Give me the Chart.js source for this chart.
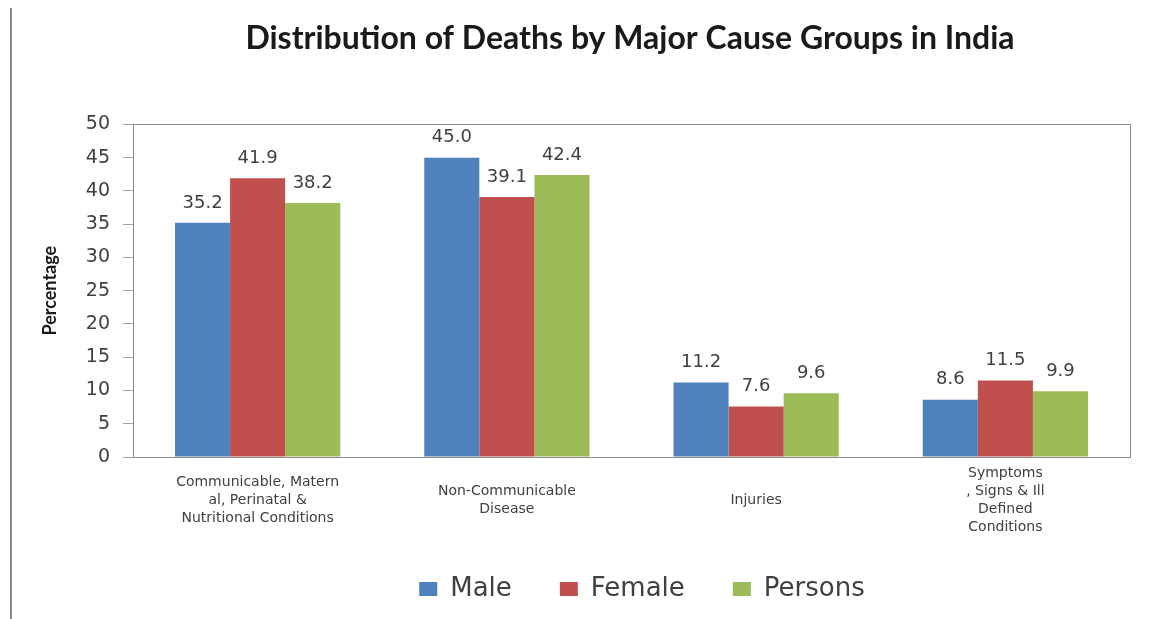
<!DOCTYPE html>
<html>
<head>
<meta charset="utf-8">
<script src="https://cdn.jsdelivr.net/npm/chart.js@4.4.1/dist/chart.umd.min.js"></script>
<style>
  html, body { margin: 0; padding: 0; background: #ffffff; }
  #wrap { width: 1160px; height: 619px; position: relative; }
</style>
</head>
<body>
<div id="wrap"><canvas id="c" width="1160" height="619"></canvas></div>
<script>
const categories = [
  ["Communicable, Matern", "al, Perinatal &", "Nutritional Conditions"],
  ["Non-Communicable", "Disease"],
  ["Injuries"],
  ["Symptoms", ", Signs & Ill", "Defined", "Conditions"]
];
const maleValues = [35.2, 45.0, 11.2, 8.6];
const femaleValues = [41.9, 39.1, 7.6, 11.5];
const personsValues = [38.2, 42.4, 9.6, 9.9];
const seriesNames = ["Male", "Female", "Persons"];
const chartTitle = "Distribution of Deaths by Major Cause Groups in India";
const yAxisTitle = "Percentage";

const valueLabels = {
  id: 'valueLabels',
  afterDatasetsDraw(chart) {
    const ctx = chart.ctx;
    ctx.save();
    ctx.font = '18px "DejaVu Sans"';
    ctx.fillStyle = '#404040';
    ctx.textAlign = 'center';
    ctx.textBaseline = 'middle';
    chart.data.datasets.forEach((ds, i) => {
      const meta = chart.getDatasetMeta(i);
      meta.data.forEach((bar, j) => {
        ctx.fillText(ds.data[j].toFixed(1), bar.x, bar.y - 20);
      });
    });
    ctx.restore();
  }
};

const frame = {
  id: 'frame',
  beforeDraw(chart) {
    const ctx = chart.ctx;
    ctx.save();
    ctx.fillStyle = '#ffffff';
    ctx.fillRect(0, 0, chart.width, chart.height);
    ctx.fillStyle = '#8a8a8a';
    ctx.fillRect(10, 8, 2, chart.height - 8);
    ctx.restore();
  },
  afterDraw(chart) {
    const a = chart.chartArea;
    const ctx = chart.ctx;
    ctx.save();
    ctx.strokeStyle = '#8c8c8c';
    ctx.lineWidth = 1;
    ctx.strokeRect(Math.round(a.left) + 0.5, Math.round(a.top) + 0.5, Math.round(a.right - a.left), Math.round(a.bottom - a.top));
    ctx.restore();
  },
  afterLayout(chart) {
    const lg = chart.legend;
    if (lg) { lg.left += 77; lg.right += 77; lg.top -= 11; lg.bottom -= 11; }
    const tb = chart.titleBlock;
    if (tb) { tb.left += 65; tb.right += 65; }
  }
};

new Chart(document.getElementById('c'), {
  type: 'bar',
  data: {
    labels: categories,
    datasets: [
      { label: seriesNames[0], data: maleValues, backgroundColor: '#4F81BD' },
      { label: seriesNames[1], data: femaleValues, backgroundColor: '#C0504D' },
      { label: seriesNames[2], data: personsValues, backgroundColor: '#9BBB59' }
    ]
  },
  options: {
    responsive: false,
    animation: false,
    devicePixelRatio: 1,
    layout: { padding: { left: 0, right: 30, top: 0, bottom: -4 } },
    datasets: { bar: { categoryPercentage: 0.663, barPercentage: 1.0, borderWidth: 0 } },
    plugins: {
      title: {
        display: true,
        text: chartTitle,
        font: { family: 'Lato', size: 32, weight: 'bold' },
        color: '#1a1a1a',
        padding: { top: 19, bottom: 67 }
      },
      legend: {
        position: 'bottom',
        labels: {
          font: { family: '"DejaVu Sans"', size: 26 },
          color: '#404040',
          boxWidth: 18,
          boxHeight: 14,
          padding: 48
        }
      },
      tooltip: { enabled: false }
    },
    scales: {
      x: {
        grid: { display: false },
        border: { display: true, color: '#8c8c8c' },
        ticks: {
          font: { family: '"DejaVu Sans"', size: 14, lineHeight: 1.3 },
          color: '#404040',
          padding: 8,
          crossAlign: 'center',
          maxRotation: 0,
          autoSkip: false
        },
        afterFit(scale) { scale.height = 82; }
      },
      y: {
        min: 0,
        max: 50,
        ticks: {
          stepSize: 5,
          font: { family: '"DejaVu Sans"', size: 19 },
          color: '#404040',
          padding: 13
        },
        grid: { drawOnChartArea: false, tickLength: 10, color: '#a6a6a6' },
        border: { display: true, color: '#a6a6a6' },
        title: {
          display: true,
          text: yAxisTitle,
          font: { family: 'Lato', size: 18, weight: 'bold' },
          color: '#1a1a1a',
          padding: { top: 39, bottom: 0 }
        },
        afterFit(scale) { scale.width = 133; }
      }
    }
  },
  plugins: [valueLabels, frame]
});
</script>
</body>
</html>
